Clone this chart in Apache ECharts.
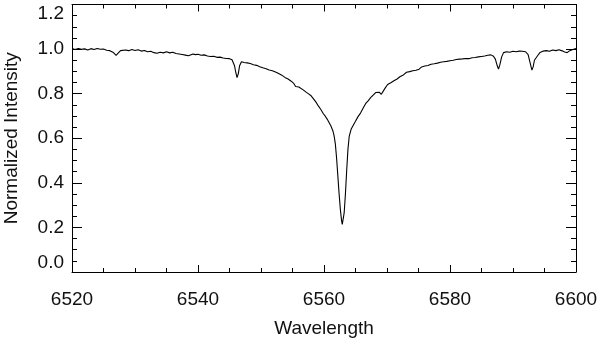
<!DOCTYPE html>
<html><head><meta charset="utf-8">
<script src="https://cdn.jsdelivr.net/npm/echarts@6/dist/echarts.min.js"></script>
<style>html,body{margin:0;padding:0;background:#fff}#c{width:600px;height:341px}</style>
</head><body><div id="c"></div>
<script>
const wavelength = [
6520.0,6520.5,6521.0,6521.5,6522.0,6522.5,6523.0,6523.5,6524.0,6524.5,6525.0,6525.5,6526.0,6526.5,6527.0,6527.3,6527.7,6528.0,6528.5,6529.0,
6529.5,6530.0,6530.5,6531.0,6531.5,6532.0,6532.5,6533.0,6533.5,6534.0,6534.5,6535.0,6535.5,6536.0,6536.5,6537.0,6537.5,6538.0,6538.5,6538.8,
6539.2,6539.6,6540.0,6540.5,6541.0,6541.5,6542.0,6542.5,6543.0,6543.5,6544.0,6544.5,6545.0,6545.4,6545.8,6546.0,6546.2,6546.4,6546.6,6546.9,
6547.3,6547.8,6548.3,6548.8,6549.3,6549.8,6550.3,6550.8,6551.3,6551.8,6552.3,6552.8,6553.3,6553.8,6554.3,6554.8,6555.2,6555.5,6555.7,6556.0,
6556.3,6556.7,6557.1,6557.5,6557.9,6558.3,6558.7,6559.1,6559.5,6559.9,6560.2,6560.5,6560.8,6561.1,6561.4,6561.6,6561.8,6562.0,6562.2,6562.4,
6562.6,6562.8,6562.9,6563.0,6563.2,6563.4,6563.6,6563.8,6564.0,6564.3,6564.6,6565.0,6565.4,6565.8,6566.2,6566.6,6567.0,6567.4,6567.8,6568.2,
6568.5,6568.8,6569.1,6569.4,6569.7,6570.1,6570.6,6571.1,6571.6,6572.1,6572.6,6573.1,6573.6,6574.1,6574.6,6575.1,6575.5,6576.0,6576.5,6577.0,
6577.5,6578.0,6578.5,6579.0,6579.5,6580.0,6580.5,6581.0,6581.5,6582.0,6582.5,6583.0,6583.5,6584.0,6584.5,6585.0,6585.5,6586.0,6586.5,6586.9,
6587.2,6587.5,6587.7,6587.9,6588.2,6588.5,6589.0,6589.5,6590.0,6590.5,6591.0,6591.5,6592.0,6592.4,6592.7,6593.0,6593.2,6593.4,6593.6,6593.9,
6594.3,6594.8,6595.3,6595.8,6596.3,6596.8,6597.3,6597.8,6598.2,6598.6,6599.0,6599.5,6600.0
];
const intensity = [
1.002,0.998,1.003,0.999,1.001,0.996,1.002,0.998,1.003,0.999,1.000,0.995,0.993,0.986,0.972,0.974,0.993,0.991,0.996,0.993,
0.998,0.994,0.997,0.991,0.994,0.988,0.990,0.984,0.981,0.986,0.983,0.988,0.983,0.986,0.980,0.978,0.976,0.973,0.970,0.964,
0.978,0.975,0.977,0.972,0.974,0.969,0.967,0.968,0.963,0.964,0.960,0.958,0.957,0.952,0.925,0.895,0.872,0.890,0.925,0.943,
0.940,0.938,0.935,0.930,0.927,0.921,0.916,0.912,0.906,0.903,0.897,0.890,0.883,0.873,0.866,0.856,0.846,0.832,0.824,0.830,
0.828,0.817,0.808,0.800,0.792,0.778,0.763,0.745,0.729,0.710,0.699,0.686,0.671,0.655,0.634,0.612,0.575,0.510,0.430,0.350,
0.280,0.228,0.214,0.222,0.265,0.350,0.455,0.550,0.608,0.640,0.656,0.676,0.697,0.713,0.735,0.755,0.768,0.782,0.793,0.805,
0.811,0.806,0.797,0.800,0.825,0.841,0.849,0.858,0.866,0.877,0.884,0.896,0.899,0.903,0.905,0.910,0.920,0.924,0.926,0.932,
0.934,0.937,0.941,0.943,0.945,0.948,0.950,0.953,0.955,0.956,0.958,0.957,0.961,0.962,0.965,0.967,0.969,0.972,0.974,0.968,
0.955,0.925,0.910,0.928,0.965,0.984,0.988,0.986,0.990,0.988,0.991,0.990,0.988,0.975,0.940,0.906,0.920,0.950,0.955,0.970,
0.985,0.991,0.993,0.990,0.996,0.993,0.997,0.992,0.987,0.984,0.993,0.998,1.003
];
const xTicks = ['6520', '6540', '6560', '6580', '6600'];
const yTicks = ['0.0','0.2','0.4','0.6','0.8','1.0','1.2'];

const FONT = 'Liberation Sans';
const chart = echarts.init(document.getElementById('c'), null, {renderer: 'canvas'});
const data = wavelength.map((w, i) => [w, intensity[i]]);
const X0 = +xTicks[0], X1 = +xTicks[xTicks.length - 1];
const Y0 = +yTicks[0], Y1 = +yTicks[yTicks.length - 1];

function xAx(pos, interval, len, labels, line) {
  const a = {
    type: 'value', min: X0, max: X1, interval: interval, position: pos, offset: 0,
    axisLine: {show: line, onZero: false, lineStyle: {color: '#000', width: 1}},
    axisTick: {show: true, inside: true, length: len, lineStyle: {color: '#000', width: 1}},
    splitLine: {show: false},
    axisLabel: {show: false}
  };
  if (labels) {
    a.axisLabel = {show: true, fontFamily: FONT, fontSize: 19, color: '#111', margin: 18,
      formatter: (v) => xTicks[Math.round((v - X0) / 20)]};
    a.name = 'Wavelength'; a.nameLocation = 'middle'; a.nameGap = 47;
    a.nameTextStyle = {fontFamily: FONT, fontSize: 19, color: '#111'};
  }
  return a;
}
function yAx(pos, interval, len, labels, line) {
  const a = {
    type: 'value', min: Y0, max: Y1, interval: interval, position: pos, offset: 0,
    axisLine: {show: line, onZero: false, lineStyle: {color: '#000', width: 1}},
    axisTick: {show: true, inside: true, length: len, lineStyle: {color: '#000', width: 1}},
    splitLine: {show: false},
    axisLabel: {show: false}
  };
  if (labels) {
    a.axisLabel = {show: true, fontFamily: FONT, fontSize: 19, color: '#111', margin: 8,
      verticalAlignMinLabel: 'bottom', verticalAlignMaxLabel: 'top',
      formatter: (v) => yTicks[Math.round(v / 0.2)]};
    a.name = 'Normalized Intensity'; a.nameLocation = 'middle'; a.nameGap = 51;
    a.nameTextStyle = {fontFamily: FONT, fontSize: 19, color: '#111'};
  }
  return a;
}

chart.setOption({
  animation: false,
  backgroundColor: '#fff',
  grid: {left: 72, right: 24, top: 4.5, bottom: 69, containLabel: false, outerBoundsMode: 'none'},
  xAxis: [
    xAx('bottom', 20, 7, true, true),
    xAx('bottom', 5, 4, false, false),
    xAx('top', 20, 7, false, true),
    xAx('top', 5, 4, false, false)
  ],
  yAxis: [
    yAx('left', 0.2, 10, true, true),
    yAx('left', 0.05, 5, false, false),
    yAx('right', 0.2, 10, false, true),
    yAx('right', 0.05, 5, false, false)
  ],
  series: [{
    type: 'line', data: data, xAxisIndex: 0, yAxisIndex: 0,
    showSymbol: false, symbol: 'none',
    lineStyle: {color: '#000', width: 1.1}
  }]
});
</script></body></html>
